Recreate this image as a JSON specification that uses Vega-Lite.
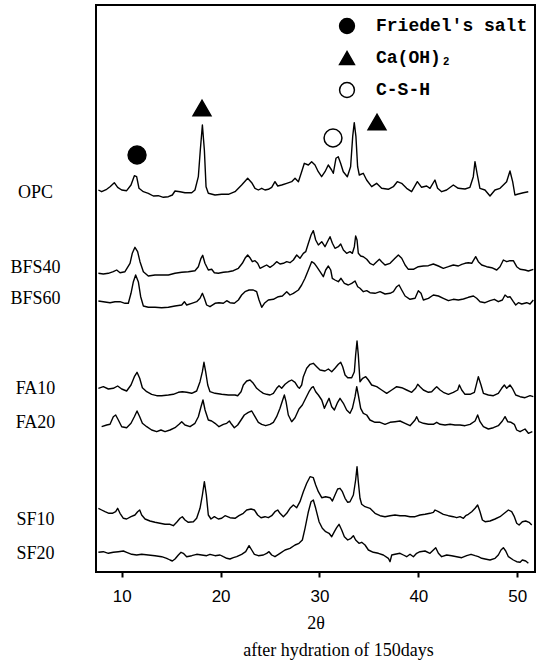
{
"$schema":"https://vega.github.io/schema/vega-lite/v6.json",
"width":439,"height":567,
"autosize":{"type":"none"},
"padding":{"left":96,"top":5,"right":5,"bottom":93},
"background":"white",
"config":{"view":{"stroke":"black","strokeWidth":2},"axis":{"grid":false},"legend":{"title":null,"orient":"none","legendX":242,"legendY":12,"padding":0,"labelFont":"Liberation Mono","labelFontSize":18,"labelFontWeight":"bold","labelColor":"black","symbolSize":220,"symbolStrokeWidth":1.5,"labelOffset":20,"rowPadding":11}},
"title":{"text":"after hydration of 150days","orient":"bottom","anchor":"middle","dx":23,"offset":10,"font":"Liberation Serif","fontSize":18,"fontWeight":"normal","color":"black"},
"datasets":{
"xrd":[
{"s":"OPC","t":7.64,"v":382},{"s":"OPC","t":7.97,"v":380.3},{"s":"OPC","t":8.48,"v":382.7},{"s":"OPC","t":8.82,"v":385.3},{"s":"OPC","t":9.25,"v":389.3},{"s":"OPC","t":9.59,"v":384.7},{"s":"OPC","t":10.0,"v":382},{"s":"OPC","t":10.5,"v":381.3},{"s":"OPC","t":10.94,"v":387},{"s":"OPC","t":11.28,"v":396.3},{"s":"OPC","t":11.51,"v":395.3},{"s":"OPC","t":11.75,"v":383.7},{"s":"OPC","t":12.19,"v":380.3},{"s":"OPC","t":12.69,"v":378.7},{"s":"OPC","t":13.2,"v":376},{"s":"OPC","t":13.7,"v":376.3},{"s":"OPC","t":14.21,"v":374.7},{"s":"OPC","t":14.72,"v":375.3},{"s":"OPC","t":15.12,"v":377},{"s":"OPC","t":15.39,"v":381},{"s":"OPC","t":15.9,"v":380.3},{"s":"OPC","t":16.4,"v":379.3},{"s":"OPC","t":17.08,"v":379.3},{"s":"OPC","t":17.41,"v":382},{"s":"OPC","t":17.75,"v":395.3},{"s":"OPC","t":17.95,"v":422},{"s":"OPC","t":18.16,"v":447},{"s":"OPC","t":18.36,"v":422},{"s":"OPC","t":18.53,"v":385.3},{"s":"OPC","t":18.76,"v":378.7},{"s":"OPC","t":19.44,"v":377},{"s":"OPC","t":20.11,"v":377.7},{"s":"OPC","t":20.79,"v":377.7},{"s":"OPC","t":21.46,"v":380.3},{"s":"OPC","t":22.13,"v":387},{"s":"OPC","t":22.74,"v":393.7},{"s":"OPC","t":23.15,"v":389.3},{"s":"OPC","t":23.48,"v":383.7},{"s":"OPC","t":23.82,"v":382},{"s":"OPC","t":24.16,"v":383.7},{"s":"OPC","t":24.49,"v":382},{"s":"OPC","t":24.83,"v":382.7},{"s":"OPC","t":25.17,"v":384.7},{"s":"OPC","t":25.5,"v":390.3},{"s":"OPC","t":25.78,"v":386},{"s":"OPC","t":26.18,"v":387},{"s":"OPC","t":26.69,"v":388.7},{"s":"OPC","t":27.19,"v":390.3},{"s":"OPC","t":27.53,"v":393.7},{"s":"OPC","t":27.87,"v":390.3},{"s":"OPC","t":28.2,"v":400.3},{"s":"OPC","t":28.47,"v":408.7},{"s":"OPC","t":28.88,"v":407},{"s":"OPC","t":29.21,"v":410.3},{"s":"OPC","t":29.55,"v":407},{"s":"OPC","t":29.88,"v":400.3},{"s":"OPC","t":30.22,"v":395.3},{"s":"OPC","t":30.56,"v":400.3},{"s":"OPC","t":30.89,"v":407},{"s":"OPC","t":31.23,"v":402},{"s":"OPC","t":31.4,"v":398.7},{"s":"OPC","t":31.67,"v":413.7},{"s":"OPC","t":31.9,"v":415.3},{"s":"OPC","t":32.14,"v":408.7},{"s":"OPC","t":32.41,"v":400.3},{"s":"OPC","t":32.82,"v":395.3},{"s":"OPC","t":33.15,"v":405.3},{"s":"OPC","t":33.36,"v":435.3},{"s":"OPC","t":33.52,"v":449.3},{"s":"OPC","t":33.69,"v":435.3},{"s":"OPC","t":33.86,"v":405.3},{"s":"OPC","t":34.03,"v":397},{"s":"OPC","t":34.43,"v":398.7},{"s":"OPC","t":34.77,"v":392},{"s":"OPC","t":35.28,"v":385.3},{"s":"OPC","t":35.78,"v":388.7},{"s":"OPC","t":36.29,"v":383.7},{"s":"OPC","t":36.96,"v":382.7},{"s":"OPC","t":37.47,"v":385.3},{"s":"OPC","t":37.87,"v":390.3},{"s":"OPC","t":38.31,"v":388.7},{"s":"OPC","t":38.82,"v":383.7},{"s":"OPC","t":39.32,"v":380.3},{"s":"OPC","t":39.9,"v":390.3},{"s":"OPC","t":40.33,"v":384.7},{"s":"OPC","t":40.84,"v":386},{"s":"OPC","t":41.18,"v":383.7},{"s":"OPC","t":41.68,"v":392},{"s":"OPC","t":41.95,"v":383.7},{"s":"OPC","t":42.36,"v":380.3},{"s":"OPC","t":42.86,"v":382},{"s":"OPC","t":43.54,"v":387},{"s":"OPC","t":44.04,"v":383.7},{"s":"OPC","t":44.72,"v":383},{"s":"OPC","t":45.22,"v":384.7},{"s":"OPC","t":45.56,"v":395.3},{"s":"OPC","t":45.73,"v":410.3},{"s":"OPC","t":45.97,"v":397},{"s":"OPC","t":46.23,"v":383.7},{"s":"OPC","t":46.74,"v":382},{"s":"OPC","t":47.25,"v":376},{"s":"OPC","t":47.75,"v":382},{"s":"OPC","t":48.26,"v":383.7},{"s":"OPC","t":48.6,"v":387},{"s":"OPC","t":48.93,"v":390.3},{"s":"OPC","t":49.27,"v":401},{"s":"OPC","t":49.54,"v":390.3},{"s":"OPC","t":49.77,"v":377},{"s":"OPC","t":50.11,"v":378},{"s":"OPC","t":50.62,"v":379.3},{"s":"OPC","t":51.12,"v":380.3},
{"s":"BFS40","t":7.64,"v":298.7},{"s":"BFS40","t":8.14,"v":298},{"s":"BFS40","t":8.65,"v":298.7},{"s":"BFS40","t":9.15,"v":300.3},{"s":"BFS40","t":9.49,"v":302},{"s":"BFS40","t":9.83,"v":299.3},{"s":"BFS40","t":10.33,"v":300.3},{"s":"BFS40","t":10.84,"v":308.7},{"s":"BFS40","t":11.07,"v":318.7},{"s":"BFS40","t":11.34,"v":324.7},{"s":"BFS40","t":11.61,"v":320.3},{"s":"BFS40","t":11.85,"v":310.3},{"s":"BFS40","t":12.19,"v":300.3},{"s":"BFS40","t":12.69,"v":296},{"s":"BFS40","t":13.37,"v":297},{"s":"BFS40","t":14.04,"v":297},{"s":"BFS40","t":14.72,"v":297},{"s":"BFS40","t":15.39,"v":298.7},{"s":"BFS40","t":16.07,"v":299.7},{"s":"BFS40","t":16.74,"v":300.3},{"s":"BFS40","t":17.41,"v":301.3},{"s":"BFS40","t":17.75,"v":305.3},{"s":"BFS40","t":18.02,"v":313.7},{"s":"BFS40","t":18.19,"v":316.7},{"s":"BFS40","t":18.42,"v":308.7},{"s":"BFS40","t":18.76,"v":302},{"s":"BFS40","t":19.1,"v":302.7},{"s":"BFS40","t":19.37,"v":299.3},{"s":"BFS40","t":19.77,"v":298.7},{"s":"BFS40","t":20.28,"v":299.7},{"s":"BFS40","t":20.79,"v":300.3},{"s":"BFS40","t":21.29,"v":301.3},{"s":"BFS40","t":21.8,"v":303.7},{"s":"BFS40","t":22.2,"v":308.7},{"s":"BFS40","t":22.47,"v":313.7},{"s":"BFS40","t":22.74,"v":317},{"s":"BFS40","t":23.01,"v":313.7},{"s":"BFS40","t":23.21,"v":310.3},{"s":"BFS40","t":23.48,"v":311.3},{"s":"BFS40","t":23.75,"v":308.7},{"s":"BFS40","t":23.99,"v":303.7},{"s":"BFS40","t":24.33,"v":305.3},{"s":"BFS40","t":24.66,"v":307},{"s":"BFS40","t":25.0,"v":304.7},{"s":"BFS40","t":25.34,"v":307},{"s":"BFS40","t":25.67,"v":310.3},{"s":"BFS40","t":26.01,"v":308},{"s":"BFS40","t":26.35,"v":308.7},{"s":"BFS40","t":26.69,"v":310.3},{"s":"BFS40","t":27.02,"v":309.3},{"s":"BFS40","t":27.36,"v":312},{"s":"BFS40","t":27.7,"v":317},{"s":"BFS40","t":28.03,"v":313.7},{"s":"BFS40","t":28.37,"v":318.7},{"s":"BFS40","t":28.61,"v":320.3},{"s":"BFS40","t":28.88,"v":328.7},{"s":"BFS40","t":29.15,"v":337},{"s":"BFS40","t":29.38,"v":341.3},{"s":"BFS40","t":29.62,"v":332},{"s":"BFS40","t":29.89,"v":327},{"s":"BFS40","t":30.23,"v":330.3},{"s":"BFS40","t":30.56,"v":325.3},{"s":"BFS40","t":30.9,"v":332},{"s":"BFS40","t":31.07,"v":335.3},{"s":"BFS40","t":31.31,"v":328.7},{"s":"BFS40","t":31.57,"v":323.7},{"s":"BFS40","t":31.91,"v":325.3},{"s":"BFS40","t":32.15,"v":328},{"s":"BFS40","t":32.42,"v":322},{"s":"BFS40","t":32.75,"v":318.7},{"s":"BFS40","t":33.09,"v":320.3},{"s":"BFS40","t":33.33,"v":318.7},{"s":"BFS40","t":33.53,"v":325.3},{"s":"BFS40","t":33.66,"v":336},{"s":"BFS40","t":33.8,"v":332},{"s":"BFS40","t":33.93,"v":318.7},{"s":"BFS40","t":34.17,"v":316},{"s":"BFS40","t":34.44,"v":315.3},{"s":"BFS40","t":34.78,"v":312.7},{"s":"BFS40","t":35.11,"v":308.7},{"s":"BFS40","t":35.45,"v":307},{"s":"BFS40","t":35.79,"v":310.3},{"s":"BFS40","t":36.06,"v":312.7},{"s":"BFS40","t":36.29,"v":310.3},{"s":"BFS40","t":36.63,"v":307},{"s":"BFS40","t":37.14,"v":308.7},{"s":"BFS40","t":37.64,"v":313.7},{"s":"BFS40","t":37.98,"v":317},{"s":"BFS40","t":38.32,"v":313.7},{"s":"BFS40","t":38.66,"v":307},{"s":"BFS40","t":38.99,"v":302.7},{"s":"BFS40","t":39.5,"v":302.7},{"s":"BFS40","t":40.0,"v":305.3},{"s":"BFS40","t":40.51,"v":306},{"s":"BFS40","t":41.02,"v":306.3},{"s":"BFS40","t":41.52,"v":308},{"s":"BFS40","t":42.03,"v":306},{"s":"BFS40","t":42.53,"v":303.7},{"s":"BFS40","t":43.04,"v":305.3},{"s":"BFS40","t":43.54,"v":307},{"s":"BFS40","t":44.05,"v":306},{"s":"BFS40","t":44.39,"v":307.7},{"s":"BFS40","t":44.72,"v":308.7},{"s":"BFS40","t":45.06,"v":309.3},{"s":"BFS40","t":45.4,"v":308.7},{"s":"BFS40","t":45.8,"v":315.3},{"s":"BFS40","t":46.07,"v":310.3},{"s":"BFS40","t":46.41,"v":307},{"s":"BFS40","t":46.91,"v":305.3},{"s":"BFS40","t":47.42,"v":304.3},{"s":"BFS40","t":47.93,"v":302},{"s":"BFS40","t":48.26,"v":305.3},{"s":"BFS40","t":48.6,"v":312},{"s":"BFS40","t":48.94,"v":310.3},{"s":"BFS40","t":49.27,"v":311.3},{"s":"BFS40","t":49.61,"v":311.3},{"s":"BFS40","t":49.95,"v":305.3},{"s":"BFS40","t":50.29,"v":302.7},{"s":"BFS40","t":50.79,"v":302},{"s":"BFS40","t":51.13,"v":301},{"s":"BFS40","t":51.63,"v":302.7},
{"s":"BFS60","t":7.64,"v":271},{"s":"BFS60","t":8.14,"v":270.3},{"s":"BFS60","t":8.82,"v":269.3},{"s":"BFS60","t":9.32,"v":270.3},{"s":"BFS60","t":9.83,"v":270.3},{"s":"BFS60","t":10.33,"v":268.7},{"s":"BFS60","t":10.67,"v":268.7},{"s":"BFS60","t":10.94,"v":278.7},{"s":"BFS60","t":11.18,"v":290.3},{"s":"BFS60","t":11.41,"v":297},{"s":"BFS60","t":11.68,"v":290.3},{"s":"BFS60","t":11.92,"v":275.3},{"s":"BFS60","t":12.19,"v":266},{"s":"BFS60","t":12.69,"v":264.7},{"s":"BFS60","t":13.37,"v":264.7},{"s":"BFS60","t":14.04,"v":264.3},{"s":"BFS60","t":14.72,"v":264.7},{"s":"BFS60","t":15.39,"v":266},{"s":"BFS60","t":16.07,"v":267},{"s":"BFS60","t":16.34,"v":270.3},{"s":"BFS60","t":16.57,"v":267},{"s":"BFS60","t":17.08,"v":268.7},{"s":"BFS60","t":17.58,"v":270.3},{"s":"BFS60","t":17.92,"v":273.7},{"s":"BFS60","t":18.16,"v":278.7},{"s":"BFS60","t":18.36,"v":273.7},{"s":"BFS60","t":18.59,"v":267},{"s":"BFS60","t":18.93,"v":265.3},{"s":"BFS60","t":19.44,"v":268.7},{"s":"BFS60","t":19.84,"v":269.3},{"s":"BFS60","t":20.28,"v":268.7},{"s":"BFS60","t":20.62,"v":271.3},{"s":"BFS60","t":20.95,"v":269.3},{"s":"BFS60","t":21.39,"v":268.7},{"s":"BFS60","t":21.8,"v":272},{"s":"BFS60","t":22.13,"v":277},{"s":"BFS60","t":22.47,"v":280.3},{"s":"BFS60","t":22.88,"v":282},{"s":"BFS60","t":23.31,"v":282},{"s":"BFS60","t":23.65,"v":280.3},{"s":"BFS60","t":23.89,"v":272},{"s":"BFS60","t":24.16,"v":264.7},{"s":"BFS60","t":24.43,"v":268.7},{"s":"BFS60","t":24.83,"v":272},{"s":"BFS60","t":25.34,"v":272.7},{"s":"BFS60","t":25.84,"v":275.3},{"s":"BFS60","t":26.25,"v":276},{"s":"BFS60","t":26.69,"v":280.3},{"s":"BFS60","t":27.02,"v":277},{"s":"BFS60","t":27.36,"v":278.7},{"s":"BFS60","t":27.87,"v":282},{"s":"BFS60","t":28.2,"v":287},{"s":"BFS60","t":28.54,"v":293.7},{"s":"BFS60","t":28.88,"v":302},{"s":"BFS60","t":29.21,"v":310.3},{"s":"BFS60","t":29.48,"v":308.7},{"s":"BFS60","t":29.72,"v":305.3},{"s":"BFS60","t":30.06,"v":300.3},{"s":"BFS60","t":30.39,"v":295.3},{"s":"BFS60","t":30.63,"v":302},{"s":"BFS60","t":30.9,"v":306},{"s":"BFS60","t":31.14,"v":302},{"s":"BFS60","t":31.3,"v":293.7},{"s":"BFS60","t":31.57,"v":292},{"s":"BFS60","t":31.91,"v":290.3},{"s":"BFS60","t":32.18,"v":293.7},{"s":"BFS60","t":32.52,"v":288.7},{"s":"BFS60","t":32.92,"v":287},{"s":"BFS60","t":33.26,"v":288.7},{"s":"BFS60","t":33.6,"v":291},{"s":"BFS60","t":33.87,"v":285.3},{"s":"BFS60","t":34.1,"v":283.7},{"s":"BFS60","t":34.44,"v":280.3},{"s":"BFS60","t":34.78,"v":281.3},{"s":"BFS60","t":35.11,"v":279.3},{"s":"BFS60","t":35.62,"v":278.7},{"s":"BFS60","t":36.13,"v":280.3},{"s":"BFS60","t":36.63,"v":278},{"s":"BFS60","t":37.14,"v":278.7},{"s":"BFS60","t":37.48,"v":280.3},{"s":"BFS60","t":37.81,"v":285.3},{"s":"BFS60","t":38.05,"v":287},{"s":"BFS60","t":38.32,"v":282},{"s":"BFS60","t":38.66,"v":276},{"s":"BFS60","t":39.16,"v":272.7},{"s":"BFS60","t":39.67,"v":273.7},{"s":"BFS60","t":40.0,"v":281.3},{"s":"BFS60","t":40.27,"v":278.7},{"s":"BFS60","t":40.51,"v":272},{"s":"BFS60","t":41.02,"v":273.7},{"s":"BFS60","t":41.52,"v":277},{"s":"BFS60","t":42.03,"v":276},{"s":"BFS60","t":42.53,"v":273.7},{"s":"BFS60","t":43.04,"v":271.3},{"s":"BFS60","t":43.54,"v":272.7},{"s":"BFS60","t":44.05,"v":272},{"s":"BFS60","t":44.56,"v":273},{"s":"BFS60","t":45.06,"v":274.7},{"s":"BFS60","t":45.57,"v":276},{"s":"BFS60","t":45.9,"v":273.7},{"s":"BFS60","t":46.24,"v":270.3},{"s":"BFS60","t":46.75,"v":269.3},{"s":"BFS60","t":47.25,"v":271.3},{"s":"BFS60","t":47.69,"v":272.7},{"s":"BFS60","t":48.09,"v":270.3},{"s":"BFS60","t":48.5,"v":272},{"s":"BFS60","t":48.77,"v":277},{"s":"BFS60","t":49.04,"v":274.7},{"s":"BFS60","t":49.27,"v":275.3},{"s":"BFS60","t":49.61,"v":270.3},{"s":"BFS60","t":49.85,"v":267},{"s":"BFS60","t":50.12,"v":269.3},{"s":"BFS60","t":50.46,"v":268},{"s":"BFS60","t":50.96,"v":269.3},{"s":"BFS60","t":51.3,"v":268},{"s":"BFS60","t":51.63,"v":272},
{"s":"FA10","t":7.64,"v":183.7},{"s":"FA10","t":8.14,"v":185.3},{"s":"FA10","t":8.65,"v":183},{"s":"FA10","t":9.15,"v":183.7},{"s":"FA10","t":9.59,"v":186},{"s":"FA10","t":10.0,"v":183},{"s":"FA10","t":10.5,"v":181},{"s":"FA10","t":10.94,"v":187},{"s":"FA10","t":11.28,"v":195.3},{"s":"FA10","t":11.55,"v":199.7},{"s":"FA10","t":11.82,"v":193.7},{"s":"FA10","t":12.09,"v":184.3},{"s":"FA10","t":12.53,"v":180.3},{"s":"FA10","t":13.03,"v":177.7},{"s":"FA10","t":13.54,"v":176.3},{"s":"FA10","t":14.04,"v":176.3},{"s":"FA10","t":14.72,"v":177},{"s":"FA10","t":15.22,"v":177.7},{"s":"FA10","t":15.73,"v":179.7},{"s":"FA10","t":16.13,"v":180.3},{"s":"FA10","t":16.57,"v":179.7},{"s":"FA10","t":17.08,"v":178.7},{"s":"FA10","t":17.58,"v":181},{"s":"FA10","t":17.92,"v":190.3},{"s":"FA10","t":18.16,"v":200.3},{"s":"FA10","t":18.32,"v":209.7},{"s":"FA10","t":18.49,"v":200.3},{"s":"FA10","t":18.7,"v":187},{"s":"FA10","t":18.93,"v":180.3},{"s":"FA10","t":19.44,"v":178.7},{"s":"FA10","t":20.11,"v":177.7},{"s":"FA10","t":20.79,"v":177},{"s":"FA10","t":21.46,"v":177},{"s":"FA10","t":21.73,"v":176.3},{"s":"FA10","t":22.07,"v":180.3},{"s":"FA10","t":22.3,"v":187},{"s":"FA10","t":22.64,"v":191},{"s":"FA10","t":22.98,"v":192},{"s":"FA10","t":23.31,"v":188.7},{"s":"FA10","t":23.65,"v":183.7},{"s":"FA10","t":23.99,"v":181},{"s":"FA10","t":24.33,"v":178.7},{"s":"FA10","t":24.66,"v":177.7},{"s":"FA10","t":25.0,"v":177},{"s":"FA10","t":25.34,"v":178.7},{"s":"FA10","t":25.67,"v":183.7},{"s":"FA10","t":25.91,"v":186.3},{"s":"FA10","t":26.18,"v":183.7},{"s":"FA10","t":26.52,"v":187.7},{"s":"FA10","t":26.85,"v":190.3},{"s":"FA10","t":27.19,"v":192},{"s":"FA10","t":27.53,"v":189.7},{"s":"FA10","t":27.8,"v":185.3},{"s":"FA10","t":27.97,"v":183.7},{"s":"FA10","t":28.2,"v":187},{"s":"FA10","t":28.37,"v":195.3},{"s":"FA10","t":28.71,"v":203.7},{"s":"FA10","t":29.05,"v":207.7},{"s":"FA10","t":29.38,"v":208.7},{"s":"FA10","t":29.72,"v":205.3},{"s":"FA10","t":30.06,"v":202},{"s":"FA10","t":30.56,"v":201},{"s":"FA10","t":30.9,"v":203},{"s":"FA10","t":31.24,"v":200.3},{"s":"FA10","t":31.57,"v":203.7},{"s":"FA10","t":31.91,"v":207.7},{"s":"FA10","t":32.15,"v":209.7},{"s":"FA10","t":32.35,"v":205.3},{"s":"FA10","t":32.59,"v":197},{"s":"FA10","t":32.86,"v":194.3},{"s":"FA10","t":33.26,"v":194.3},{"s":"FA10","t":33.53,"v":200.3},{"s":"FA10","t":33.66,"v":217},{"s":"FA10","t":33.8,"v":231},{"s":"FA10","t":33.93,"v":217},{"s":"FA10","t":34.1,"v":190.3},{"s":"FA10","t":34.37,"v":193.7},{"s":"FA10","t":34.68,"v":195.3},{"s":"FA10","t":34.95,"v":192},{"s":"FA10","t":35.28,"v":187},{"s":"FA10","t":35.79,"v":185.3},{"s":"FA10","t":36.29,"v":182},{"s":"FA10","t":36.8,"v":178.7},{"s":"FA10","t":37.31,"v":182},{"s":"FA10","t":37.81,"v":185.3},{"s":"FA10","t":38.32,"v":184.3},{"s":"FA10","t":38.82,"v":182},{"s":"FA10","t":39.33,"v":179.7},{"s":"FA10","t":39.73,"v":183.7},{"s":"FA10","t":39.94,"v":187.7},{"s":"FA10","t":40.17,"v":185.3},{"s":"FA10","t":40.51,"v":182},{"s":"FA10","t":41.02,"v":179.7},{"s":"FA10","t":41.35,"v":180.3},{"s":"FA10","t":41.69,"v":183.7},{"s":"FA10","t":41.86,"v":185.3},{"s":"FA10","t":42.2,"v":182},{"s":"FA10","t":42.53,"v":179.7},{"s":"FA10","t":43.04,"v":177.7},{"s":"FA10","t":43.54,"v":179.7},{"s":"FA10","t":43.98,"v":182},{"s":"FA10","t":44.15,"v":187},{"s":"FA10","t":44.39,"v":182},{"s":"FA10","t":44.72,"v":177.7},{"s":"FA10","t":45.23,"v":177.7},{"s":"FA10","t":45.67,"v":179.7},{"s":"FA10","t":45.9,"v":188.7},{"s":"FA10","t":46.07,"v":195.3},{"s":"FA10","t":46.34,"v":187},{"s":"FA10","t":46.58,"v":178.7},{"s":"FA10","t":47.08,"v":177},{"s":"FA10","t":47.59,"v":176.3},{"s":"FA10","t":48.09,"v":178.7},{"s":"FA10","t":48.43,"v":183.7},{"s":"FA10","t":48.7,"v":187},{"s":"FA10","t":48.94,"v":183.7},{"s":"FA10","t":49.27,"v":187},{"s":"FA10","t":49.51,"v":183.7},{"s":"FA10","t":49.85,"v":177},{"s":"FA10","t":50.29,"v":175.3},{"s":"FA10","t":50.79,"v":174.3},{"s":"FA10","t":51.3,"v":176.3},{"s":"FA10","t":51.63,"v":175.3},
{"s":"FA20","t":7.97,"v":145.3},{"s":"FA20","t":8.48,"v":147},{"s":"FA20","t":8.82,"v":147.7},{"s":"FA20","t":9.15,"v":155.3},{"s":"FA20","t":9.39,"v":157},{"s":"FA20","t":9.66,"v":152},{"s":"FA20","t":10.0,"v":145.3},{"s":"FA20","t":10.5,"v":144.3},{"s":"FA20","t":10.94,"v":148.7},{"s":"FA20","t":11.28,"v":155.3},{"s":"FA20","t":11.55,"v":161},{"s":"FA20","t":11.82,"v":155.3},{"s":"FA20","t":12.09,"v":148.7},{"s":"FA20","t":12.53,"v":145.3},{"s":"FA20","t":13.03,"v":142},{"s":"FA20","t":13.54,"v":140.3},{"s":"FA20","t":13.97,"v":142},{"s":"FA20","t":14.38,"v":140.3},{"s":"FA20","t":14.89,"v":142},{"s":"FA20","t":15.39,"v":144.3},{"s":"FA20","t":15.8,"v":147.7},{"s":"FA20","t":16.07,"v":150.3},{"s":"FA20","t":16.4,"v":147},{"s":"FA20","t":16.91,"v":145.3},{"s":"FA20","t":17.41,"v":148.7},{"s":"FA20","t":17.75,"v":155.3},{"s":"FA20","t":18.02,"v":165.3},{"s":"FA20","t":18.22,"v":172},{"s":"FA20","t":18.43,"v":162},{"s":"FA20","t":18.76,"v":152},{"s":"FA20","t":19.1,"v":151},{"s":"FA20","t":19.44,"v":148.7},{"s":"FA20","t":19.84,"v":145.3},{"s":"FA20","t":20.28,"v":147.7},{"s":"FA20","t":20.62,"v":148.7},{"s":"FA20","t":20.89,"v":151},{"s":"FA20","t":21.12,"v":147.7},{"s":"FA20","t":21.39,"v":144.3},{"s":"FA20","t":21.73,"v":147},{"s":"FA20","t":22.07,"v":152},{"s":"FA20","t":22.4,"v":157},{"s":"FA20","t":22.81,"v":159.7},{"s":"FA20","t":23.15,"v":161},{"s":"FA20","t":23.48,"v":155.3},{"s":"FA20","t":23.82,"v":149.7},{"s":"FA20","t":24.16,"v":147.7},{"s":"FA20","t":24.56,"v":146.3},{"s":"FA20","t":25.0,"v":147.7},{"s":"FA20","t":25.34,"v":149.7},{"s":"FA20","t":25.67,"v":155.3},{"s":"FA20","t":26.01,"v":163.7},{"s":"FA20","t":26.28,"v":172},{"s":"FA20","t":26.45,"v":177},{"s":"FA20","t":26.62,"v":170.3},{"s":"FA20","t":26.85,"v":157},{"s":"FA20","t":27.19,"v":150.3},{"s":"FA20","t":27.53,"v":154.3},{"s":"FA20","t":27.93,"v":163},{"s":"FA20","t":28.27,"v":167},{"s":"FA20","t":28.61,"v":173.7},{"s":"FA20","t":28.94,"v":180.3},{"s":"FA20","t":29.21,"v":184.3},{"s":"FA20","t":29.38,"v":185.3},{"s":"FA20","t":29.62,"v":180.3},{"s":"FA20","t":29.89,"v":177},{"s":"FA20","t":30.23,"v":172},{"s":"FA20","t":30.5,"v":163.7},{"s":"FA20","t":30.73,"v":168.7},{"s":"FA20","t":30.97,"v":173.7},{"s":"FA20","t":31.24,"v":165.3},{"s":"FA20","t":31.51,"v":162},{"s":"FA20","t":31.84,"v":169.7},{"s":"FA20","t":32.08,"v":173.7},{"s":"FA20","t":32.42,"v":168.7},{"s":"FA20","t":32.75,"v":162},{"s":"FA20","t":33.09,"v":158.7},{"s":"FA20","t":33.33,"v":163.7},{"s":"FA20","t":33.6,"v":175.3},{"s":"FA20","t":33.77,"v":185.3},{"s":"FA20","t":33.93,"v":177},{"s":"FA20","t":34.17,"v":163.7},{"s":"FA20","t":34.44,"v":158.7},{"s":"FA20","t":34.78,"v":157},{"s":"FA20","t":35.11,"v":152},{"s":"FA20","t":35.62,"v":149.7},{"s":"FA20","t":36.13,"v":149.7},{"s":"FA20","t":36.63,"v":147.7},{"s":"FA20","t":37.14,"v":149.7},{"s":"FA20","t":37.64,"v":150.3},{"s":"FA20","t":38.15,"v":151},{"s":"FA20","t":38.66,"v":148.7},{"s":"FA20","t":39.16,"v":146.3},{"s":"FA20","t":39.67,"v":152},{"s":"FA20","t":39.83,"v":155.3},{"s":"FA20","t":40.07,"v":150.3},{"s":"FA20","t":40.51,"v":148.7},{"s":"FA20","t":41.02,"v":147.7},{"s":"FA20","t":41.52,"v":147.7},{"s":"FA20","t":41.86,"v":149.7},{"s":"FA20","t":42.2,"v":147.7},{"s":"FA20","t":42.7,"v":147},{"s":"FA20","t":43.21,"v":147.7},{"s":"FA20","t":43.71,"v":147},{"s":"FA20","t":44.22,"v":147},{"s":"FA20","t":44.72,"v":146.3},{"s":"FA20","t":45.23,"v":147.7},{"s":"FA20","t":45.74,"v":151},{"s":"FA20","t":46.0,"v":157},{"s":"FA20","t":46.24,"v":150.3},{"s":"FA20","t":46.58,"v":145.3},{"s":"FA20","t":47.08,"v":143},{"s":"FA20","t":47.59,"v":144.3},{"s":"FA20","t":48.09,"v":146.3},{"s":"FA20","t":48.5,"v":151},{"s":"FA20","t":48.77,"v":155.3},{"s":"FA20","t":49.04,"v":150.3},{"s":"FA20","t":49.38,"v":149.7},{"s":"FA20","t":49.71,"v":147.7},{"s":"FA20","t":49.95,"v":142},{"s":"FA20","t":50.29,"v":140.3},{"s":"FA20","t":50.79,"v":143},{"s":"FA20","t":51.13,"v":138.7},{"s":"FA20","t":51.53,"v":140.3},
{"s":"SF10","t":7.64,"v":63.7},{"s":"SF10","t":7.97,"v":62},{"s":"SF10","t":8.31,"v":60.3},{"s":"SF10","t":8.71,"v":58.7},{"s":"SF10","t":9.05,"v":58.7},{"s":"SF10","t":9.39,"v":60.3},{"s":"SF10","t":9.59,"v":63.7},{"s":"SF10","t":9.83,"v":58.7},{"s":"SF10","t":10.17,"v":53.7},{"s":"SF10","t":10.5,"v":53},{"s":"SF10","t":10.94,"v":55.3},{"s":"SF10","t":11.34,"v":57},{"s":"SF10","t":11.61,"v":60.3},{"s":"SF10","t":11.82,"v":62},{"s":"SF10","t":12.02,"v":57},{"s":"SF10","t":12.36,"v":53},{"s":"SF10","t":12.86,"v":51},{"s":"SF10","t":13.37,"v":49.7},{"s":"SF10","t":13.87,"v":48.7},{"s":"SF10","t":14.38,"v":47.7},{"s":"SF10","t":14.89,"v":47.7},{"s":"SF10","t":15.22,"v":46.3},{"s":"SF10","t":15.56,"v":49.7},{"s":"SF10","t":15.9,"v":53.7},{"s":"SF10","t":16.13,"v":55.3},{"s":"SF10","t":16.4,"v":52},{"s":"SF10","t":16.74,"v":49.7},{"s":"SF10","t":17.25,"v":50.3},{"s":"SF10","t":17.58,"v":53.7},{"s":"SF10","t":17.92,"v":63.7},{"s":"SF10","t":18.16,"v":77},{"s":"SF10","t":18.36,"v":90.3},{"s":"SF10","t":18.56,"v":77},{"s":"SF10","t":18.76,"v":57},{"s":"SF10","t":19.03,"v":53},{"s":"SF10","t":19.37,"v":55.3},{"s":"SF10","t":19.77,"v":53},{"s":"SF10","t":20.11,"v":53.7},{"s":"SF10","t":20.45,"v":56.3},{"s":"SF10","t":20.95,"v":54.3},{"s":"SF10","t":21.46,"v":53.7},{"s":"SF10","t":21.86,"v":56.3},{"s":"SF10","t":22.3,"v":58.7},{"s":"SF10","t":22.64,"v":62},{"s":"SF10","t":23.08,"v":63},{"s":"SF10","t":23.42,"v":62},{"s":"SF10","t":23.75,"v":57},{"s":"SF10","t":24.09,"v":54.3},{"s":"SF10","t":24.49,"v":55.3},{"s":"SF10","t":24.83,"v":54.3},{"s":"SF10","t":25.17,"v":56.3},{"s":"SF10","t":25.5,"v":60.3},{"s":"SF10","t":25.78,"v":62},{"s":"SF10","t":26.01,"v":58.7},{"s":"SF10","t":26.35,"v":55.3},{"s":"SF10","t":26.69,"v":58.7},{"s":"SF10","t":27.02,"v":63.7},{"s":"SF10","t":27.36,"v":67},{"s":"SF10","t":27.7,"v":64.3},{"s":"SF10","t":28.03,"v":70.3},{"s":"SF10","t":28.37,"v":80.3},{"s":"SF10","t":28.71,"v":88.7},{"s":"SF10","t":29.05,"v":95.3},{"s":"SF10","t":29.38,"v":94.3},{"s":"SF10","t":29.62,"v":87},{"s":"SF10","t":29.89,"v":80.3},{"s":"SF10","t":30.23,"v":74.3},{"s":"SF10","t":30.63,"v":75.3},{"s":"SF10","t":31.07,"v":74.3},{"s":"SF10","t":31.31,"v":71},{"s":"SF10","t":31.57,"v":77},{"s":"SF10","t":31.84,"v":83},{"s":"SF10","t":32.08,"v":83.7},{"s":"SF10","t":32.32,"v":80.3},{"s":"SF10","t":32.59,"v":73.7},{"s":"SF10","t":32.86,"v":69.7},{"s":"SF10","t":33.09,"v":70.3},{"s":"SF10","t":33.43,"v":77},{"s":"SF10","t":33.66,"v":92},{"s":"SF10","t":33.8,"v":105.3},{"s":"SF10","t":33.93,"v":90.3},{"s":"SF10","t":34.1,"v":73.7},{"s":"SF10","t":34.27,"v":67.7},{"s":"SF10","t":34.61,"v":65.3},{"s":"SF10","t":35.11,"v":63.7},{"s":"SF10","t":35.62,"v":58.7},{"s":"SF10","t":36.13,"v":56.3},{"s":"SF10","t":36.63,"v":55.3},{"s":"SF10","t":37.14,"v":56.3},{"s":"SF10","t":37.64,"v":57},{"s":"SF10","t":38.15,"v":56.3},{"s":"SF10","t":38.66,"v":56.3},{"s":"SF10","t":39.16,"v":55.3},{"s":"SF10","t":39.67,"v":55.3},{"s":"SF10","t":40.17,"v":57},{"s":"SF10","t":40.68,"v":57.7},{"s":"SF10","t":41.18,"v":58.7},{"s":"SF10","t":41.52,"v":59.7},{"s":"SF10","t":41.69,"v":62},{"s":"SF10","t":42.03,"v":60.3},{"s":"SF10","t":42.53,"v":57.7},{"s":"SF10","t":43.04,"v":56.3},{"s":"SF10","t":43.54,"v":55.3},{"s":"SF10","t":43.88,"v":54.3},{"s":"SF10","t":44.22,"v":55.3},{"s":"SF10","t":44.56,"v":53.7},{"s":"SF10","t":44.79,"v":56.3},{"s":"SF10","t":45.06,"v":57.7},{"s":"SF10","t":45.4,"v":60.3},{"s":"SF10","t":45.74,"v":63.7},{"s":"SF10","t":46.0,"v":67},{"s":"SF10","t":46.24,"v":60.3},{"s":"SF10","t":46.48,"v":52},{"s":"SF10","t":46.75,"v":50.3},{"s":"SF10","t":47.25,"v":51},{"s":"SF10","t":47.76,"v":53},{"s":"SF10","t":48.26,"v":55.3},{"s":"SF10","t":48.7,"v":58.7},{"s":"SF10","t":49.11,"v":62},{"s":"SF10","t":49.44,"v":60.3},{"s":"SF10","t":49.71,"v":55.3},{"s":"SF10","t":49.95,"v":48.7},{"s":"SF10","t":50.19,"v":47},{"s":"SF10","t":50.52,"v":50.3},{"s":"SF10","t":50.86,"v":51},{"s":"SF10","t":51.2,"v":49.7},{"s":"SF10","t":51.47,"v":47},
{"s":"SF20","t":7.64,"v":19.7},{"s":"SF20","t":8.14,"v":20.3},{"s":"SF20","t":8.65,"v":18.7},{"s":"SF20","t":9.15,"v":19.7},{"s":"SF20","t":9.66,"v":20.3},{"s":"SF20","t":10.17,"v":21},{"s":"SF20","t":10.5,"v":19.7},{"s":"SF20","t":11.01,"v":17.7},{"s":"SF20","t":11.51,"v":17},{"s":"SF20","t":12.02,"v":17.7},{"s":"SF20","t":12.69,"v":17},{"s":"SF20","t":13.37,"v":16.3},{"s":"SF20","t":14.04,"v":15.3},{"s":"SF20","t":14.55,"v":13.7},{"s":"SF20","t":14.89,"v":12},{"s":"SF20","t":15.12,"v":11},{"s":"SF20","t":15.39,"v":13},{"s":"SF20","t":15.73,"v":17},{"s":"SF20","t":16.0,"v":19.7},{"s":"SF20","t":16.23,"v":18.7},{"s":"SF20","t":16.57,"v":15.3},{"s":"SF20","t":17.08,"v":16.3},{"s":"SF20","t":17.58,"v":17.7},{"s":"SF20","t":18.09,"v":17},{"s":"SF20","t":18.59,"v":16.3},{"s":"SF20","t":18.93,"v":17.7},{"s":"SF20","t":19.44,"v":16.3},{"s":"SF20","t":19.94,"v":17},{"s":"SF20","t":20.28,"v":15.3},{"s":"SF20","t":20.62,"v":13.7},{"s":"SF20","t":20.95,"v":13},{"s":"SF20","t":21.29,"v":14.3},{"s":"SF20","t":21.63,"v":15.3},{"s":"SF20","t":22.13,"v":17.7},{"s":"SF20","t":22.54,"v":20.3},{"s":"SF20","t":22.88,"v":26.3},{"s":"SF20","t":23.15,"v":22},{"s":"SF20","t":23.42,"v":17.7},{"s":"SF20","t":23.82,"v":16.3},{"s":"SF20","t":24.33,"v":17},{"s":"SF20","t":24.66,"v":18.7},{"s":"SF20","t":24.9,"v":20.3},{"s":"SF20","t":25.17,"v":17},{"s":"SF20","t":25.5,"v":15.3},{"s":"SF20","t":26.01,"v":18.7},{"s":"SF20","t":26.52,"v":22},{"s":"SF20","t":27.02,"v":23.7},{"s":"SF20","t":27.53,"v":27},{"s":"SF20","t":27.93,"v":28.7},{"s":"SF20","t":28.27,"v":32},{"s":"SF20","t":28.54,"v":43.7},{"s":"SF20","t":28.88,"v":60.3},{"s":"SF20","t":29.15,"v":70.3},{"s":"SF20","t":29.38,"v":72},{"s":"SF20","t":29.62,"v":63.7},{"s":"SF20","t":29.96,"v":50.3},{"s":"SF20","t":30.29,"v":43.7},{"s":"SF20","t":30.63,"v":40.3},{"s":"SF20","t":30.97,"v":38.7},{"s":"SF20","t":31.24,"v":35.3},{"s":"SF20","t":31.51,"v":40.3},{"s":"SF20","t":31.74,"v":44.3},{"s":"SF20","t":31.98,"v":47.7},{"s":"SF20","t":32.25,"v":42},{"s":"SF20","t":32.52,"v":35.3},{"s":"SF20","t":32.86,"v":32},{"s":"SF20","t":33.19,"v":33.7},{"s":"SF20","t":33.43,"v":36.3},{"s":"SF20","t":33.66,"v":32},{"s":"SF20","t":34.0,"v":28.7},{"s":"SF20","t":34.27,"v":29.7},{"s":"SF20","t":34.61,"v":27},{"s":"SF20","t":34.95,"v":22},{"s":"SF20","t":35.45,"v":19.7},{"s":"SF20","t":35.96,"v":18.7},{"s":"SF20","t":36.46,"v":17},{"s":"SF20","t":36.97,"v":13.7},{"s":"SF20","t":37.14,"v":10.3},{"s":"SF20","t":37.31,"v":17},{"s":"SF20","t":37.64,"v":17.7},{"s":"SF20","t":38.15,"v":18.7},{"s":"SF20","t":38.49,"v":17},{"s":"SF20","t":38.82,"v":15.3},{"s":"SF20","t":39.16,"v":17.7},{"s":"SF20","t":39.5,"v":15.3},{"s":"SF20","t":39.83,"v":18.7},{"s":"SF20","t":40.17,"v":20.3},{"s":"SF20","t":40.68,"v":21},{"s":"SF20","t":41.18,"v":18.7},{"s":"SF20","t":41.52,"v":22},{"s":"SF20","t":41.76,"v":24.3},{"s":"SF20","t":42.03,"v":18.7},{"s":"SF20","t":42.36,"v":15.3},{"s":"SF20","t":42.87,"v":17},{"s":"SF20","t":43.37,"v":16.3},{"s":"SF20","t":43.88,"v":15.3},{"s":"SF20","t":44.39,"v":14.3},{"s":"SF20","t":44.89,"v":16.3},{"s":"SF20","t":45.33,"v":17.7},{"s":"SF20","t":45.74,"v":16.3},{"s":"SF20","t":46.07,"v":15.3},{"s":"SF20","t":46.41,"v":13.7},{"s":"SF20","t":46.75,"v":13},{"s":"SF20","t":47.25,"v":12},{"s":"SF20","t":47.76,"v":13.7},{"s":"SF20","t":48.09,"v":17},{"s":"SF20","t":48.36,"v":22},{"s":"SF20","t":48.6,"v":24.3},{"s":"SF20","t":48.84,"v":21},{"s":"SF20","t":49.11,"v":15.3},{"s":"SF20","t":49.61,"v":12},{"s":"SF20","t":49.95,"v":10.3},{"s":"SF20","t":50.29,"v":9.7},{"s":"SF20","t":50.52,"v":12},{"s":"SF20","t":50.86,"v":11},{"s":"SF20","t":51.13,"v":8.7}
],
"markers":[
{"phase":"Friedel's salt","t":11.55,"v":417},
{"phase":"Ca(OH)₂","t":18.12,"v":464},
{"phase":"C-S-H","t":31.37,"v":434},
{"phase":"Ca(OH)₂","t":35.82,"v":450}
]
},
"layer":[
{"data":{"name":"xrd"},
"mark":{"type":"line","color":"black","strokeWidth":1.4,"strokeJoin":"round"},
"encoding":{
"x":{"field":"t","type":"quantitative","scale":{"domain":[7.4,51.8],"nice":false,"zero":false},
"axis":{"values":[10,20,30,40,50],"domain":false,"tickSize":5,"tickWidth":2,"tickColor":"black","labelFont":"Liberation Sans","labelFontSize":17,"labelColor":"black","labelPadding":11,"title":"2θ","titleFont":"Liberation Serif","titleFontSize":18,"titleFontWeight":"normal","titleColor":"black","titlePadding":10,"grid":false}},
"y":{"field":"v","type":"quantitative","scale":{"domain":[0,567],"nice":false,"zero":false},
"axis":{"values":[19,53,150,184,274,305,380],"labelExpr":"datum.value == 380 ? 'OPC' : datum.value == 305 ? 'BFS40' : datum.value == 274 ? 'BFS60' : datum.value == 184 ? 'FA10' : datum.value == 150 ? 'FA20' : datum.value == 53 ? 'SF10' : 'SF20'","domain":false,"ticks":false,"tickSize":0,"labelAlign":"center","labelBaseline":"middle","labelPadding":61,"labelFont":"Liberation Serif","labelFontSize":18,"labelColor":"black","title":null,"grid":false}},
"detail":{"field":"s","type":"nominal"}
}},
{"data":{"name":"markers"},
"mark":{"type":"point","filled":true,"strokeWidth":1.5,"size":320,"opacity":1},
"encoding":{
"x":{"field":"t","type":"quantitative"},
"y":{"field":"v","type":"quantitative"},
"shape":{"field":"phase","type":"nominal","scale":{"domain":["Friedel's salt","Ca(OH)₂","C-S-H"],"range":["circle","triangle-up","circle"]}},
"fill":{"field":"phase","type":"nominal","scale":{"domain":["Friedel's salt","Ca(OH)₂","C-S-H"],"range":["black","black","white"]}},
"stroke":{"field":"phase","type":"nominal","scale":{"domain":["Friedel's salt","Ca(OH)₂","C-S-H"],"range":["black","black","black"]}}
}}
]
}
